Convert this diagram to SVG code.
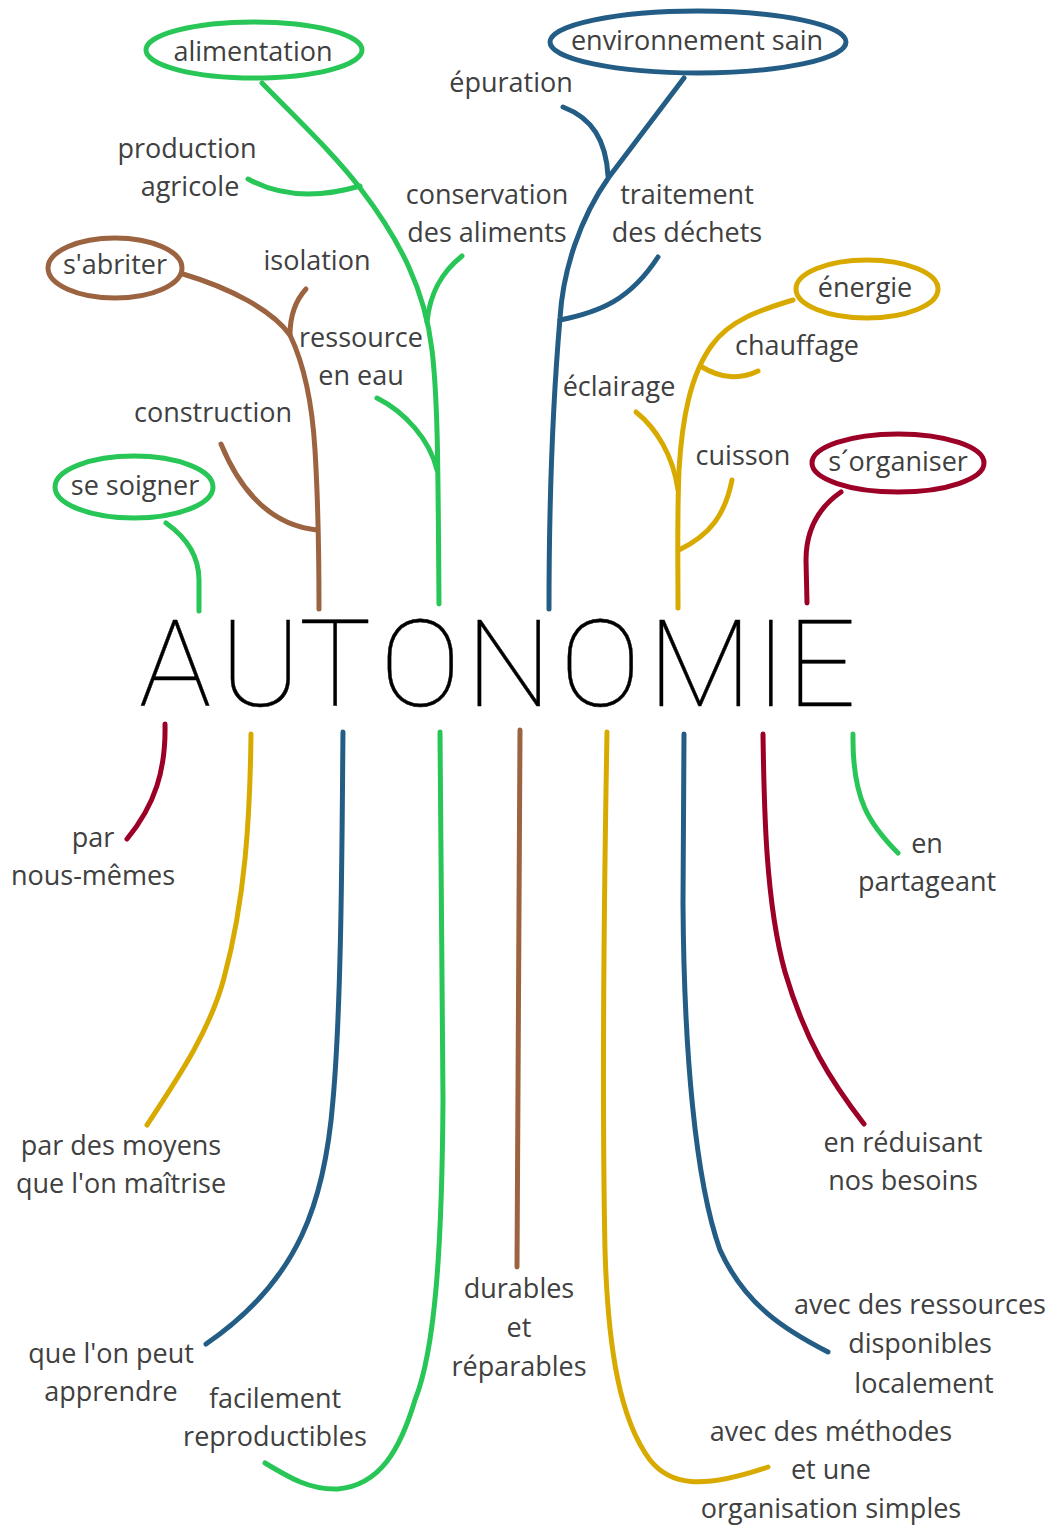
<svg xmlns="http://www.w3.org/2000/svg" width="1053" height="1528" viewBox="0 0 1053 1528">
<style>
.t{font-family:"Open Sans","Noto Sans",sans-serif;font-size:27px;fill:#404040;text-anchor:middle}
.c{fill:none;stroke-width:5;stroke-linecap:round;stroke-linejoin:round}
.g{stroke:#27c657}.b{stroke:#235d85}.br{stroke:#9b6340}.y{stroke:#d8aa00}.r{stroke:#9c0026}
.title{font-family:Roboto,Inter,Lato,sans-serif;font-weight:100;font-size:121px;fill:#000;stroke:#000;stroke-width:0.4}
</style>
<rect width="1053" height="1528" fill="#fff"/>
<g id="connectors">
<path class="c g" d="M262 83 C300 122 335 155 360 188 C400 240 425 290 432 350 C438 400 438 470 439 604"/>
<path class="c g" d="M462 256 C442 272 430 292 427 322"/>
<path class="c g" d="M248 179 Q295 205 360 186"/>
<path class="c g" d="M377 398 C405 412 430 440 437 470"/>
<path class="c br" d="M183 274 C230 288 272 310 290 335 C302 360 312 400 315 450 C318 500 319 550 319 609"/>
<path class="c br" d="M306 289 C296 300 290 315 290 335"/>
<path class="c br" d="M221 444 C240 490 270 525 317 530"/>
<path class="c g" d="M166 523 C190 540 199 560 199 580 L199 611"/>
<path class="c b" d="M684 78 L609 177 C580 218 563 270 560 318 C553 400 549 500 549 609"/>
<path class="c b" d="M563 107 C592 118 606 140 608 176"/>
<path class="c b" d="M658 257 C630 300 600 312 560 320"/>
<path class="c y" d="M793 300 C760 310 730 320 712 345 C690 375 682 420 679 470 C677 520 678 560 678 608"/>
<path class="c y" d="M758 371 C740 380 720 378 702 367"/>
<path class="c y" d="M636 412 C656 428 673 455 678 490"/>
<path class="c y" d="M732 480 C725 515 710 535 679 550"/>
<path class="c r" d="M841 492 C815 510 806 535 806 560 L807 603"/>
<path class="c r" d="M165 724 C166 770 155 805 127 839"/>
<path class="c y" d="M251 734 C250 820 245 900 224 978 C210 1030 180 1075 147 1125"/>
<path class="c b" d="M343 732 C342 820 342 1000 333 1100 C325 1200 300 1280 206 1344"/>
<path class="c g" d="M440 732 C441 900 443 1050 443 1100 C442 1250 435 1350 415 1400 C400 1450 380 1485 338 1489 C310 1490 290 1478 265 1463"/>
<path class="c br" d="M520 730 L517 1267"/>
<path class="c y" d="M607 732 C604 900 602 1100 605 1250 C608 1350 620 1420 650 1460 C670 1485 700 1490 768 1467"/>
<path class="c b" d="M684 734 L683 904 C684 1050 695 1180 720 1250 C745 1305 785 1330 828 1352"/>
<path class="c r" d="M763 734 C764 800 765 900 785 972 C805 1040 830 1080 864 1124"/>
<path class="c g" d="M853 734 C852 800 870 825 898 853"/>
</g>
<g id="n-alimentation"><ellipse class="c g" cx="254" cy="50" rx="108" ry="28"/><text class="t" x="253" y="61">alimentation</text></g>
<g id="n-environnement"><ellipse class="c b" cx="698" cy="42" rx="148" ry="31"/><text class="t" x="697" y="50">environnement sain</text></g>
<g id="n-sabriter"><ellipse class="c br" cx="115" cy="268" rx="67" ry="30"/><text class="t" x="115" y="274">s'abriter</text></g>
<g id="n-sesoigner"><ellipse class="c g" cx="134" cy="487" rx="79" ry="31"/><text class="t" x="135" y="495">se soigner</text></g>
<g id="n-energie"><ellipse class="c y" cx="867" cy="289" rx="71" ry="29"/><text class="t" x="865" y="297">énergie</text></g>
<g id="n-sorganiser"><ellipse class="c r" cx="898" cy="463" rx="86" ry="29"/><text class="t" x="898" y="471">s´organiser</text></g>
<g id="n-autonomie"><text class="title" x="139 220 299 380 466 560 648 755 787" y="706">AUTONOMIE</text></g>
<g id="labels">
<text class="t" x="511" y="92">épuration</text>
<text class="t" x="187" y="158">production</text>
<text class="t" x="190" y="196">agricole</text>
<text class="t" x="487" y="204">conservation</text>
<text class="t" x="487" y="242">des aliments</text>
<text class="t" x="687" y="204">traitement</text>
<text class="t" x="687" y="242">des déchets</text>
<text class="t" x="317" y="270">isolation</text>
<text class="t" x="361" y="347">ressource</text>
<text class="t" x="361" y="385">en eau</text>
<text class="t" x="797" y="355">chauffage</text>
<text class="t" x="619" y="396">éclairage</text>
<text class="t" x="213" y="422">construction</text>
<text class="t" x="743" y="465">cuisson</text>
<text class="t" x="93" y="847">par</text>
<text class="t" x="93" y="885">nous-mêmes</text>
<text class="t" x="927" y="853">en</text>
<text class="t" x="927" y="891">partageant</text>
<text class="t" x="121" y="1155">par des moyens</text>
<text class="t" x="121" y="1193">que l'on maîtrise</text>
<text class="t" x="903" y="1152">en réduisant</text>
<text class="t" x="903" y="1190">nos besoins</text>
<text class="t" x="519" y="1298">durables</text>
<text class="t" x="519" y="1337">et</text>
<text class="t" x="519" y="1376">réparables</text>
<text class="t" x="920" y="1314">avec des ressources</text>
<text class="t" x="920" y="1353">disponibles</text>
<text class="t" x="924" y="1393">localement</text>
<text class="t" x="111" y="1363">que l'on peut</text>
<text class="t" x="111" y="1401">apprendre</text>
<text class="t" x="275" y="1408">facilement</text>
<text class="t" x="275" y="1446">reproductibles</text>
<text class="t" x="831" y="1441">avec des méthodes</text>
<text class="t" x="831" y="1479">et une</text>
<text class="t" x="831" y="1518">organisation simples</text>
</g>
</svg>
